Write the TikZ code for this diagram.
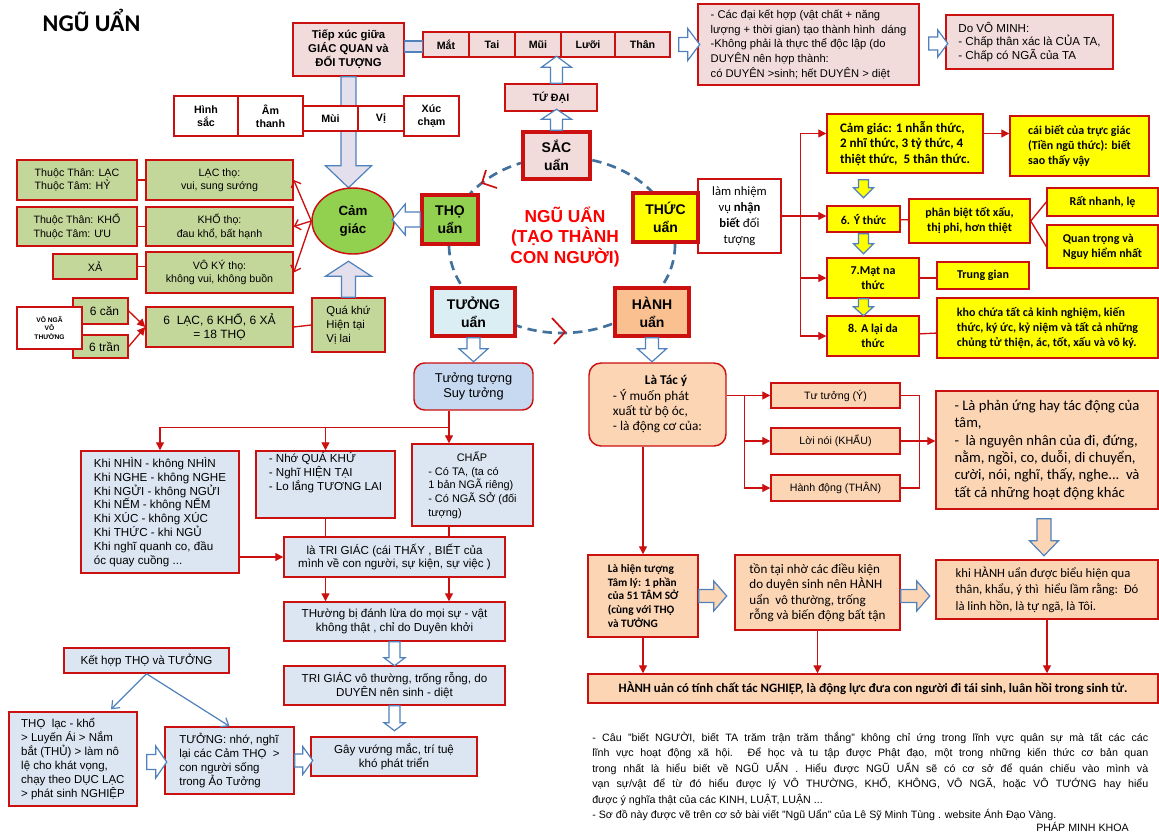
\documentclass[tikz,border=0pt]{standalone}
\usepackage{fontspec}
\setmainfont{Liberation Sans}
\newfontfamily\calib{Carlito}
\usetikzlibrary{calc,arrows.meta,shapes.geometric}
\definecolor{cRed}{HTML}{CC1010}
\definecolor{cPink}{HTML}{F2DCDB}
\definecolor{cGreen}{HTML}{92D050}
\definecolor{cLgreen}{HTML}{C4D79B}
\definecolor{cYel}{HTML}{FFFF00}
\definecolor{cTuong}{HTML}{DBEEF4}
\definecolor{cSuy}{HTML}{C6D9F1}
\definecolor{cXam}{HTML}{DCE6F2}
\definecolor{cHanh}{HTML}{FAC090}
\definecolor{cCam}{HTML}{FCD5B5}
\definecolor{cLav}{HTML}{E4DFEC}
\definecolor{cVien}{HTML}{4F81BD}
\definecolor{cVong}{HTML}{41719C}
\definecolor{cChu}{HTML}{FF0000}

\newcommand\muiten[7]{%
	\begin{scope}[shift={#2}, rotate=#3]
		\filldraw[khoi, fill=#1] (0,-#5) -- (#4-#7,-#5) -- (#4-#7,-#6) -- (#4,0) -- (#4-#7,#6) -- (#4-#7,#5) -- (0,#5) -- cycle;
	\end{scope}}

\begin{document}
\begin{tikzpicture}
	[x=0.75pt, y=-0.75pt,
	khung/.style n args={4}{at={({(#1+#3)/2},{(#2+#4)/2})}, minimum width={(#3-#1)*0.75pt}, minimum height={(#4-#2)*0.75pt}},
	box/.style={draw=cRed, line width=1.1pt, inner sep=0pt, align=center, font=\fontsize{8}{10}\selectfont},
	hong/.style={box, fill=cPink},
	trang/.style={box, fill=white},
	la/.style={box, fill=cLgreen},
	vang/.style={box, fill=cYel, font=\calib\fontsize{9}{11.3}\selectfont\bfseries},
	xam/.style={box, fill=cXam, font=\fontsize{8.7}{10.4}\selectfont},
	cam/.style={box, fill=cCam, font=\calib\fontsize{9}{12}\selectfont},
	uan/.style={draw=cRed, line width=2.6pt, inner sep=0pt, align=center, font=\fontsize{10.5}{13.5}\selectfont\bfseries},
	dao/.style={draw=cRed, line width=1pt},
	muido/.style={dao, -{Triangle[length=6pt,width=6pt]}},
	rau/.style={dao, -{Straight Barb[length=4pt,width=8pt]}},
	muixanh/.style={draw=cVien, line width=0.9pt, -{Straight Barb[length=5pt,width=8pt]}},
	khoi/.style={draw=cVien, line width=0.9pt},
	vong/.style={draw=cVong, line width=2pt, dash pattern=on 7pt off 4.5pt}]
	\fill[white] (0,0) rectangle (1159,832);
	\useasboundingbox (0,0) rectangle (1159,832);
	\node[anchor=west, font=\calib\fontsize{18}{20}\selectfont\bfseries] (tieude) at (38,20) {NGŨ UẨN};

	\node[hong, khung={293}{23}{404}{76}, font=\fontsize{8.5}{10.5}\selectfont\bfseries] (tiepxuc) {Tiếp xúc giữa\\GIÁC QUAN và\\ĐỐI TƯỢNG};
	\muiten{cLav}{(tiepxuc.south)}{-90}{111}{7.5}{23}{22}
	\foreach \n/\t/\a/\b in {mat/Mắt/423/469, tai/Tai/469/515, mui/Mũi/515/561, luoi/Lưỡi/561/615, than/Thân/615/670}
		\node[hong, khung={\a}{32}{\b}{57}, font=\fontsize{8}{10}\selectfont\bfseries] (\n) {\t};
	\filldraw[khoi, fill=cLav] ($(tiepxuc.east)+(0,-8.5)$) rectangle ($(mat.west)+(0,7.5)$);
	\foreach \n/\t/\a/\b/\c/\d in {hinhsac/{Hình\\sắc}/174/238/96/136, amthanh/{Âm\\thanh}/238/303/96/136, muiB/Mùi/303/358/106/131, vi/Vị/358/404/106/131, xuccham/{Xúc\\chạm}/404/459/96/136}
		\node[trang, khung={\a}{\c}{\b}{\d}, font=\fontsize{8}{10}\selectfont\bfseries] (\n) {\t};

	\node[hong, khung={698}{4}{919}{85}, align=left, font=\fontsize{8.4}{11}\selectfont] (cacdai) {- Các đại kết hợp (vật chất + năng\\lượng + thời gian) tạo thành hình\ \ dáng\\-Không phải là thực thể độc lập (do\\DUYÊN nên hợp thành:\\có DUYÊN >sinh; hết DUYÊN > diệt};
	\node[hong, khung={946}{15}{1113}{69}, align=left, font=\fontsize{8.7}{10.3}\selectfont] (vominh) {Do VÔ MINH:\\- Chấp thân xác là CỦA TA,\\- Chấp có NGÃ của TA};
	\muiten{white}{($(than.east)+(8,0)$)}{0}{21}{7}{16}{12}
	\muiten{white}{($(cacdai.east)+(9,-1)$)}{0}{19}{6.5}{13.5}{10}

	\node[hong, khung={505}{84}{597}{111}, font=\fontsize{8}{10}\selectfont\bfseries] (tudai) {TỨ ĐẠI};
	\draw[vong] (562,245) ellipse [x radius=113, y radius=88];
	\node[uan, fill=cPink, khung={523}{132}{590}{179}] (sac) {SẮC\\uẩn};
	\node[uan, fill=cGreen, khung={422}{195}{478}{244}] (tho) {THỌ\\uẩn};
	\node[uan, fill=cTuong, khung={432}{288}{515}{336}] (tuong) {TƯỞNG\\uẩn};
	\node[uan, fill=cHanh, khung={615}{288}{689}{336}] (hanh) {HÀNH\\uẩn};
	\node[font=\fontsize{13}{15.5}\selectfont\bfseries, text=cChu, align=center] (giua) at (565,237) {NGŨ UẨN\\(TẠO THÀNH\\CON NGƯỜI)};
	\draw[dao, line width=1.3pt] (486,170) -- (482,183) -- (497,188);
	\draw[dao, line width=1.3pt] (552,318) -- (565,332) -- (554,344);
	\muiten{white}{(sac.north |- tudai.north)}{90}{27}{6}{15}{11}
	\muiten{white}{(sac.north)}{90}{21}{6}{15}{10}

	\node[draw=cRed, line width=1.1pt, fill=cGreen, ellipse, minimum width=61.5pt, minimum height=49.5pt, inner sep=0pt, align=center, font=\fontsize{10}{13.5}\selectfont\bfseries] (camgiac) at (353,221) {Cảm\\giác};
	\muiten{white}{(tho.west)}{180}{28}{7.5}{15.5}{13}
	\node[la, khung={17}{160}{137}{200}, align=left] (thanLac) {Thuộc Thân: LẠC\\Thuộc Tâm: HỶ};
	\node[la, khung={146}{160}{293}{200}] (lacTho) {LẠC thọ:\\vui, sung sướng};
	\node[la, khung={17}{207}{137}{246}, align=left] (thanKho) {Thuộc Thân: KHỔ\\Thuộc Tâm: ƯU};
	\node[la, khung={146}{207}{293}{246}] (khoTho) {KHỔ thọ:\\đau khổ, bất hạnh};
	\node[la, khung={53}{254}{137}{279}] (xa) {XẢ};
	\node[la, khung={146}{252}{293}{293}] (voky) {VÔ KÝ thọ:\\không vui, không buồn};
	\node[la, khung={73}{298}{128}{324}, font=\fontsize{9}{11}\selectfont] (can) {\hspace*{6pt}6 căn};
	\node[la, khung={73}{335}{128}{358}, font=\fontsize{9}{11}\selectfont] (tran) {\hspace*{6pt}6 trần};
	\node[trang, khung={17}{307}{82}{349}, font=\fontsize{5}{6.5}\selectfont\bfseries] (vonga) {VÔ NGÃ\\VÔ\\THƯỜNG};
	\node[la, khung={146}{307}{293}{347}, font=\fontsize{9}{11}\selectfont] (lac18) {6\ \ LẠC, 6 KHỔ, 6 XẢ\\= 18 THỌ};
	\node[la, khung={312}{298}{385}{352}, align=left, font=\fontsize{8.5}{10.5}\selectfont] (quakhu) {Quá khứ\\Hiện tại\\Vị lai};
	\muiten{cLav}{(quakhu.north)}{90}{36}{7}{23}{15}
	\draw[dao] (thanLac) -- (lacTho);
	\draw[dao] (thanKho) -- (khoTho);
	\draw[dao] (xa.east) -- (xa.east -| voky.west);
	\draw[rau] (camgiac.west) -- (lacTho.east);
	\draw[rau] (camgiac.west) -- (khoTho.east);
	\draw[rau] (camgiac.west) -- (voky.east);
	\draw[muido] (can.east) -- (lac18.west);
	\draw[muido] (tran.east) -- (lac18.west);
	\draw[dao] (lac18.east) -- (quakhu.west);

	\node[trang, khung={698}{179}{781}{253}, font=\calib\fontsize{9.5}{12}\selectfont] (lamnv) {làm nhiệm\\vụ \textbf{nhận}\\\textbf{biết} đối\\tượng};
	\node[uan, fill=cYel, khung={633}{193}{698}{242}] (thuc) {THỨC\\uẩn};
	\node[vang, khung={827}{114}{983}{173}, align=left, font=\calib\fontsize{9.8}{11.4}\selectfont\bfseries] (cgThuc) {Cảm giác: 1 nhẫn thức,\\2 nhĩ thức, 3 tỷ thức, 4\\thiệt thức,\ \ 5 thân thức.};
	\node[vang, khung={1010}{116}{1149}{176}, align=left] (caibiet) {cái biết của trực giác\\(Tiền ngũ thức): biết\\sao thấy vậy};
	\node[vang, khung={827}{206}{900}{232}] (ythuc) {6. Ý thức};
	\node[vang, khung={909}{199}{1030}{243}] (phanbiet) {phân biệt tốt xấu,\\thị phi, hơn thiệt};
	\node[vang, khung={1047}{188}{1158}{216}] (ratnhanh) {Rất nhanh, lẹ};
	\node[vang, khung={1047}{225}{1158}{268}, align=left] (quantrong) {Quan trọng và\\Nguy hiểm nhất};
	\node[vang, khung={827}{258}{919}{298}] (matna) {7.Mạt na\\thức};
	\node[vang, khung={937}{262}{1029}{289}] (trunggian) {Trung gian};
	\node[vang, khung={827}{316}{919}{356}] (alaida) {8. A lại da\\thức};
	\node[vang, khung={937}{298}{1158}{358}, align=left] (kho) {kho chứa tất cả kinh nghiệm, kiến\\thức, ký ức, kỷ niệm và tất cả những\\chủng tử thiện, ác, tốt, xấu và vô ký.};
	\coordinate (nhanh) at ($(lamnv.east)+(19,0)$);
	\draw[dao] (lamnv.east) -- (nhanh);
	\draw[muido] (nhanh) |- ($(cgThuc.west)+(0,-10)$);
	\draw[muido] (nhanh) -- (nhanh -| ythuc.west);
	\draw[muido] (nhanh) |- (matna.west);
	\draw[muido] (nhanh) |- (alaida.west);
	\draw[muido] ($(cgThuc.east)+(0,-10)$) -- ($(cgThuc.east -| caibiet.west)+(0,-10)$);
	\draw[dao] (ythuc) -- (phanbiet);
	\draw[dao] (phanbiet.east) -- (ratnhanh.west);
	\draw[dao] (phanbiet.east) -- (quantrong.west);
	\draw[dao] (matna.east) -- (matna.east -| trunggian.west);
	\draw[dao] (alaida) -- (kho);
	\muiten{cYel}{($(ythuc.north |- cgThuc.south)+(0,6)$)}{-90}{18}{5}{10}{10}
	\muiten{cYel}{($(ythuc.south)+(0,1)$)}{-90}{20}{5}{10}{10}
	\muiten{cYel}{(ythuc.south |- matna.south)}{-90}{17}{5}{10}{9}

	\muiten{white}{(hanh.south)}{-90}{24}{6.5}{14.5}{13}
	\node[cam, khung={589}{363}{726}{446}, rounded corners=9pt, align=left, font=\calib\fontsize{10}{11.5}\selectfont] (tacy) {\hspace*{2.4em}\textbf{Là Tác ý}\\- Ý muốn phát\\xuất từ bộ óc,\\- là động cơ của:};
	\node[cam, khung={771}{383}{900}{408}, font=\fontsize{8}{10}\selectfont] (tutuong) {Tư tưởng (Ý)};
	\node[cam, khung={771}{428}{900}{454}, font=\fontsize{8}{10}\selectfont] (loinoi) {Lời nói (KHẨU)};
	\node[cam, khung={771}{475}{900}{501}, font=\fontsize{8}{10}\selectfont] (hanhdong) {Hành động (THÂN)};
	\node[cam, khung={936}{391}{1158}{509}, align=left, font=\calib\fontsize{11}{13}\selectfont] (phanung) {- Là phản ứng hay tác động của\\tâm,\\-\ \ là nguyên nhân của đi, đứng,\\nằm, ngồi, co, duỗi, di chuyển,\\cười, nói, nghĩ, thấy, nghe...\ \ và\\tất cả những hoạt động khác};
	\coordinate (tk) at ($(tacy.east |- tutuong.west)+(18,0)$);
	\draw[muido] (tacy.east |- tutuong.west) -- (tutuong.west);
	\draw[muido] (tk) |- (hanhdong.west);
	\draw[muido] (tk |- loinoi.west) -- (loinoi.west);
	\coordinate (tp) at ($(tutuong.east)+(19,0)$);
	\draw[dao] (tutuong.east) -- (tp) |- (hanhdong.east);
	\draw[muido] (loinoi.east) -- (loinoi.east -| phanung.west);
	\node[cam, khung={588}{555}{698}{637}, align=left, font=\calib\fontsize{8.5}{10.4}\selectfont\bfseries] (hientuong) {Là hiện tượng\\Tâm lý: 1 phần\\của 51 TÂM SỞ\\(cùng với THỌ\\và TƯỞNG};
	\node[cam, khung={735}{555}{900}{630}, align=left, font=\calib\fontsize{9.8}{11.6}\selectfont] (tontai) {tồn tại nhờ các điều kiện\\do duyên sinh nên HÀNH\\uẩn\ \ vô thường, trống\\rỗng và biến động bất tận};
	\node[cam, khung={936}{560}{1158}{619}, align=left, font=\calib\fontsize{9.5}{12.5}\selectfont] (khihanh) {khi HÀNH uẩn được biểu hiện qua\\thân, khẩu, ý thì\ \ hiểu lầm rằng:\ \ Đó\\là linh hồn, là tự ngã, là Tôi.};
	\node[cam, khung={588}{674}{1158}{703}, font=\calib\fontsize{9.6}{11}\selectfont\bfseries] (nghiep) {HÀNH uản có tính chất tác NGHIỆP, là động lực đưa con người đi tái sinh, luân hồi trong sinh tử.};
	\muiten{cCam}{($(phanung.south)+(-3,9)$)}{-90}{37}{7}{14.5}{15}
	\muiten{cCam}{(hientuong.east)}{0}{28}{6.5}{15}{13}
	\muiten{cCam}{(tontai.east |- hientuong.east)}{0}{29}{6.5}{15}{13}
	\draw[muido] (tacy.south -| hientuong.north) -- (hientuong.north);
	\draw[muido] (hientuong.south) -- (hientuong.south |- nghiep.north);
	\draw[muido] (tontai.south) -- (tontai.south |- nghiep.north);
	\draw[muido] (khihanh.south) -- (khihanh.south |- nghiep.north);

	\muiten{white}{(tuong.south)}{-90}{24}{6.5}{14.5}{13}
	\node[box, fill=cSuy, rounded corners=8pt, khung={414}{363}{533}{410}, font=\fontsize{9.6}{11.3}\selectfont] (tuongtuong) {Tưởng tượng\\Suy tưởng};
	\node[xam, khung={81}{451}{239}{573}, align=left] (khinhin) {Khi NHÌN - không NHÌN\\Khi NGHE - không NGHE\\Khi NGỬI - không NGỬI\\Khi NẾM - không NẾM\\Khi XÚC - không XÚC\\Khi THỨC - khi NGỦ\\Khi nghĩ quanh co, đầu\\óc quay cuồng ...};
	\node[xam, khung={256}{451}{395}{518}, align=left] (nho) {- Nhớ QUÁ KHỨ\\- Nghĩ HIỆN TẠI\\- Lo lắng TƯƠNG LAI\\[9pt]};
	\node[xam, khung={412}{444}{533}{526}, align=left, font=\fontsize{8.2}{10.3}\selectfont] (chap) {\hspace*{2.6em}CHẤP\\- Có TA, (ta có\\1 bản NGÃ riêng)\\- Có NGÃ SỞ (đối\\tượng)};
	\node[xam, khung={284}{537}{505}{577}] (trigiac) {là TRI GIÁC (cái THẤY , BIẾT của\\mình về con người, sự kiện, sự việc )};
	\node[xam, khung={284}{602}{505}{641}] (thuongbi) {THường bị đánh lừa do mọi sự - vật\\không thật , chỉ do Duyên khởi};
	\node[xam, khung={284}{666}{505}{705}] (trigiac2) {TRI GIÁC vô thường, trống rỗng, do\\DUYÊN nên sinh - diệt};
	\node[xam, khung={311}{737}{477}{776}] (gayvuong) {Gây vướng mắc, trí tuệ\\khó phát triển};
	\node[xam, khung={64}{648}{229}{673}] (ketHop) {Kết hợp THỌ và TƯỞNG};
	\node[xam, khung={9}{712}{137}{806}, align=left, font=\fontsize{8.6}{10.5}\selectfont] (thoLac) {THỌ\ \ lạc - khổ\\> Luyến Ái > Nắm\\bắt (THỦ) > làm nô\\lệ cho khát vọng,\\chạy theo DỤC LẠC\\> phát sinh NGHIỆP};
	\node[xam, khung={165}{727}{294}{794}, align=left, font=\fontsize{8.6}{10.5}\selectfont] (tuongNho) {TƯỞNG: nhớ, nghĩ\\lại các Cảm THỌ\ \ >\\con người sống\\trong Ảo Tưởng};
	\coordinate (re) at ($(tuongtuong.south)+(-24.5,17)$);
	\draw[dao] (re |- tuongtuong.south) -- (re);
	\draw[muido] (re) -| (khinhin.north);
	\draw[muido] (re -| nho.north) -- (nho.north);
	\draw[muido] (re) -- (re |- chap.north);
	\draw[dao] (nho.south) -- (nho.south |- trigiac.north);
	\draw[dao] (re |- chap.south) -- (re |- trigiac.north);
	\draw[muido] (khinhin.east |- trigiac.west) -- (trigiac.west);
	\draw[muido] (nho.south |- trigiac.south) -- (nho.south |- thuongbi.north);
	\draw[muido] (re |- trigiac.south) -- (re |- thuongbi.north);
	\muiten{white}{(thuongbi.south)}{-90}{24}{5.5}{10.5}{8}
	\muiten{white}{(trigiac2.south)}{-90}{25}{5.5}{10.5}{8}
	\muiten{white}{($(thoLac.east)+(9,3)$)}{0}{20}{7.5}{16}{11}
	\muiten{white}{(tuongNho.east)}{0}{18}{6.5}{14}{10}
	\draw[muixanh] (ketHop.south) -- ($(thoLac.north)+(38,-2)$);
	\draw[muixanh] (ketHop.south) -- (tuongNho.north);

	\node[anchor=north west, text width=417pt, align=justify, inner sep=0pt, font=\fontsize{8}{11.6}\selectfont] (ghichu) at (592,732) {- Câu "biết NGƯỜI, biết TA trăm trận trăm thắng" không chỉ ứng trong lĩnh vực quân sự mà tất các các\linebreak lĩnh vực hoạt động xã hội. Để học và tu tập được Phật đạo, một trong những kiến thức cơ bản quan\linebreak trong nhất là hiểu biết về NGŨ UẨN . Hiểu được NGŨ UẨN sẽ có cơ sở để quán chiếu vào mình và\linebreak vạn sự/vật để từ đó hiểu được lý VÔ THƯỜNG, KHỔ, KHÔNG, VÔ NGÃ, hoặc VÔ TƯỚNG hay hiểu\linebreak được ý nghĩa thật của các KINH, LUẬT, LUẬN ...\\- Sơ đồ này được vẽ trên cơ sở bài viết "Ngũ Uẩn" của Lê Sỹ Minh Tùng . website Ánh Đạo Vàng.};
	\node[anchor=east, inner sep=0pt, font=\fontsize{8}{10}\selectfont] (tacgia) at (1129,827) {PHÁP MINH KHOA};
\end{tikzpicture}
\end{document}
